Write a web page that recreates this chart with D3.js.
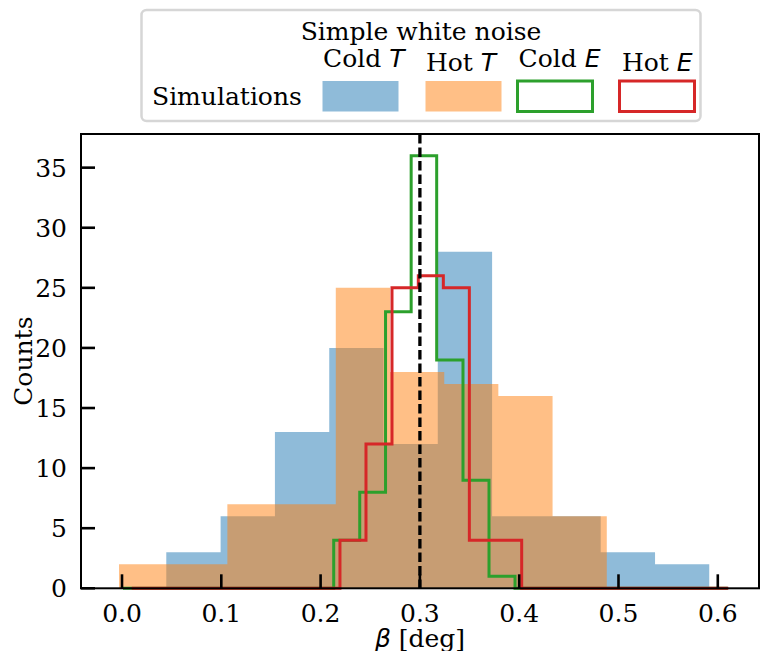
<!DOCTYPE html>
<html>
<head>
<meta charset="utf-8">
<script src="https://cdn.jsdelivr.net/npm/d3@7"></script>
<style>
  html, body { margin: 0; padding: 0; background: #fff; }
  svg { display: block; }
  text { font-family: "DejaVu Serif", serif; fill: #000; }
</style>
</head>
<body>
<svg id="chart" width="761" height="651"></svg>
<script>
// ---------- data ----------
const coldT_edges = [0.0446, 0.0993, 0.1540, 0.2087, 0.2634, 0.3180, 0.3727, 0.4274, 0.4821, 0.5368, 0.5914];
const coldT_counts = [3, 6, 13, 20, 12, 28, 6, 6, 3, 2];

const hotT_edges = [-0.0030, 0.0516, 0.1061, 0.1607, 0.2153, 0.2699, 0.3245, 0.3790, 0.4336, 0.4882];
const hotT_counts = [2, 2, 7, 7, 25, 18, 17, 16, 6];

const coldE_edges = [0.2132, 0.2394, 0.2654, 0.2912, 0.3169, 0.3434, 0.3696, 0.3958];
const coldE_counts = [4, 8, 23, 36, 19, 9, 1];
const coldE_range = [0.001, 0.610];

const hotE_edges = [0.2195, 0.2457, 0.2719, 0.2984, 0.3236, 0.3498, 0.3761, 0.4025];
const hotE_counts = [4, 12, 25, 26, 25, 4, 4];
const hotE_range = [0.0098, 0.6106];

const trueBeta = 0.3;

const xTicks = [0.0, 0.1, 0.2, 0.3, 0.4, 0.5, 0.6];
const yTicks = [0, 5, 10, 15, 20, 25, 30, 35];
const xDomain = [-0.0413, 0.6415];
const yDomain = [0, 37.8];

const legendTitle = "Simple white noise";
const legendRowLabel = "Simulations";
const legendItems = [
  {word: "Cold", sym: "T", kind: "fill", color: "#1f77b4"},
  {word: "Hot",  sym: "T", kind: "fill", color: "#ff7f0e"},
  {word: "Cold", sym: "E", kind: "step", color: "#2ca02c"},
  {word: "Hot",  sym: "E", kind: "step", color: "#d62728"}
];

// ---------- layout ----------
const L = 81, R = 759, T = 134, B = 588.3;
const svg = d3.select("#chart");
const x = d3.scaleLinear().domain(xDomain).range([L, R]);
const y = d3.scaleLinear().domain(yDomain).range([B, T]);

const plot = svg.append("g");

// filled histogram drawn as one outline (no seams between bars)
function bars(edges, counts, color) {
  const pts = [[edges[0], 0]];
  counts.forEach((c, i) => { pts.push([edges[i], c]); pts.push([edges[i + 1], c]); });
  pts.push([edges[edges.length - 1], 0]);
  plot.append("path")
    .datum(pts)
    .attr("d", d3.line().x(d => x(d[0])).y(d => y(d[1])).curve(d3.curveLinearClosed))
    .attr("fill", color)
    .attr("fill-opacity", 0.5)
    .attr("stroke", "none");
}
bars(coldT_edges, coldT_counts, "#1f77b4");
bars(hotT_edges, hotT_counts, "#ff7f0e");

function step(edges, counts, range, color) {
  const pts = [[range[0], 0], [edges[0], 0]];
  counts.forEach((c, i) => { pts.push([edges[i], c]); pts.push([edges[i + 1], c]); });
  pts.push([edges[edges.length - 1], 0]);
  pts.push([range[1], 0]);
  plot.append("path")
    .datum(pts)
    .attr("d", d3.line().x(d => x(d[0])).y(d => y(d[1])))
    .attr("fill", "none")
    .attr("stroke", color)
    .attr("stroke-width", 3)
    .attr("stroke-linejoin", "miter");
}
step(coldE_edges, coldE_counts, coldE_range, "#2ca02c");
step(hotE_edges, hotE_counts, hotE_range, "#d62728");

// dashed reference line
plot.append("line")
  .attr("x1", x(trueBeta)).attr("x2", x(trueBeta))
  .attr("y1", T).attr("y2", B)
  .attr("stroke", "#000").attr("stroke-width", 3.3)
  .attr("stroke-dasharray", "9.5,4");

// frame
svg.append("rect")
  .attr("x", L).attr("y", T).attr("width", R - L).attr("height", B - T)
  .attr("fill", "none").attr("stroke", "#000").attr("stroke-width", 2);

// x axis (inward ticks)
const xAxis = svg.append("g");
xAxis.selectAll("line").data(xTicks).join("line")
  .attr("x1", d => x(d)).attr("x2", d => x(d))
  .attr("y1", B).attr("y2", B - 14)
  .attr("stroke", "#000").attr("stroke-width", 2.6);
xAxis.selectAll("text").data(xTicks).join("text")
  .attr("x", d => x(d)).attr("y", 622)
  .attr("text-anchor", "middle")
  .attr("font-size", 25)
  .text(d => d3.format(".1f")(d));

// y axis (inward ticks)
const yAxis = svg.append("g");
yAxis.selectAll("line").data(yTicks).join("line")
  .attr("x1", L).attr("x2", L + 14)
  .attr("y1", d => y(d)).attr("y2", d => y(d))
  .attr("stroke", "#000").attr("stroke-width", 2.6);
yAxis.selectAll("text").data(yTicks).join("text")
  .attr("x", 67).attr("y", d => y(d) + 9)
  .attr("text-anchor", "end")
  .attr("font-size", 25)
  .text(d => d);

// axis labels
const xl = svg.append("text")
  .attr("x", (L + R) / 2).attr("y", 647)
  .attr("text-anchor", "middle").attr("font-size", 25);
xl.append("tspan").attr("font-family", "DejaVu Sans").attr("font-style", "italic").text("β");
xl.append("tspan").text(" [deg]");

svg.append("text")
  .attr("transform", `translate(31.5,${(T + B) / 2}) rotate(-90)`)
  .attr("text-anchor", "middle").attr("font-size", 25)
  .text("Counts");

// ---------- legend ----------
const lg = svg.append("g");
lg.append("rect")
  .attr("x", 141.5).attr("y", 10).attr("width", 559).attr("height", 111)
  .attr("rx", 5).attr("ry", 5)
  .attr("fill", "#fff").attr("stroke", "#d6d6d6").attr("stroke-width", 2.5);
lg.append("text").attr("x", 421).attr("y", 40)
  .attr("text-anchor", "middle").attr("font-size", 25).text(legendTitle);
lg.append("text").attr("x", 152).attr("y", 105)
  .attr("font-size", 25).text(legendRowLabel);

const itemX = [322.5, 425.5, 517.5, 619.5];
const labelX = [323, 426, 518.5, 622];
legendItems.forEach((it, i) => {
  const t = lg.append("text")
    .attr("x", labelX[i]).attr("y", it.word === "Cold" ? 66.5 : 70.5)
    .attr("font-size", 25);
  t.append("tspan").text(it.word + " ");
  t.append("tspan").attr("font-family", "DejaVu Sans").attr("font-style", "italic").text(it.sym);
  if (it.kind === "fill") {
    lg.append("rect").attr("x", itemX[i]).attr("y", 81).attr("width", 76).attr("height", 30.5)
      .attr("fill", it.color).attr("fill-opacity", 0.5);
  } else {
    lg.append("rect").attr("x", itemX[i]).attr("y", 81).attr("width", 75).attr("height", 30.5)
      .attr("fill", "none").attr("stroke", it.color).attr("stroke-width", 3);
  }
});
</script>
</body>
</html>
